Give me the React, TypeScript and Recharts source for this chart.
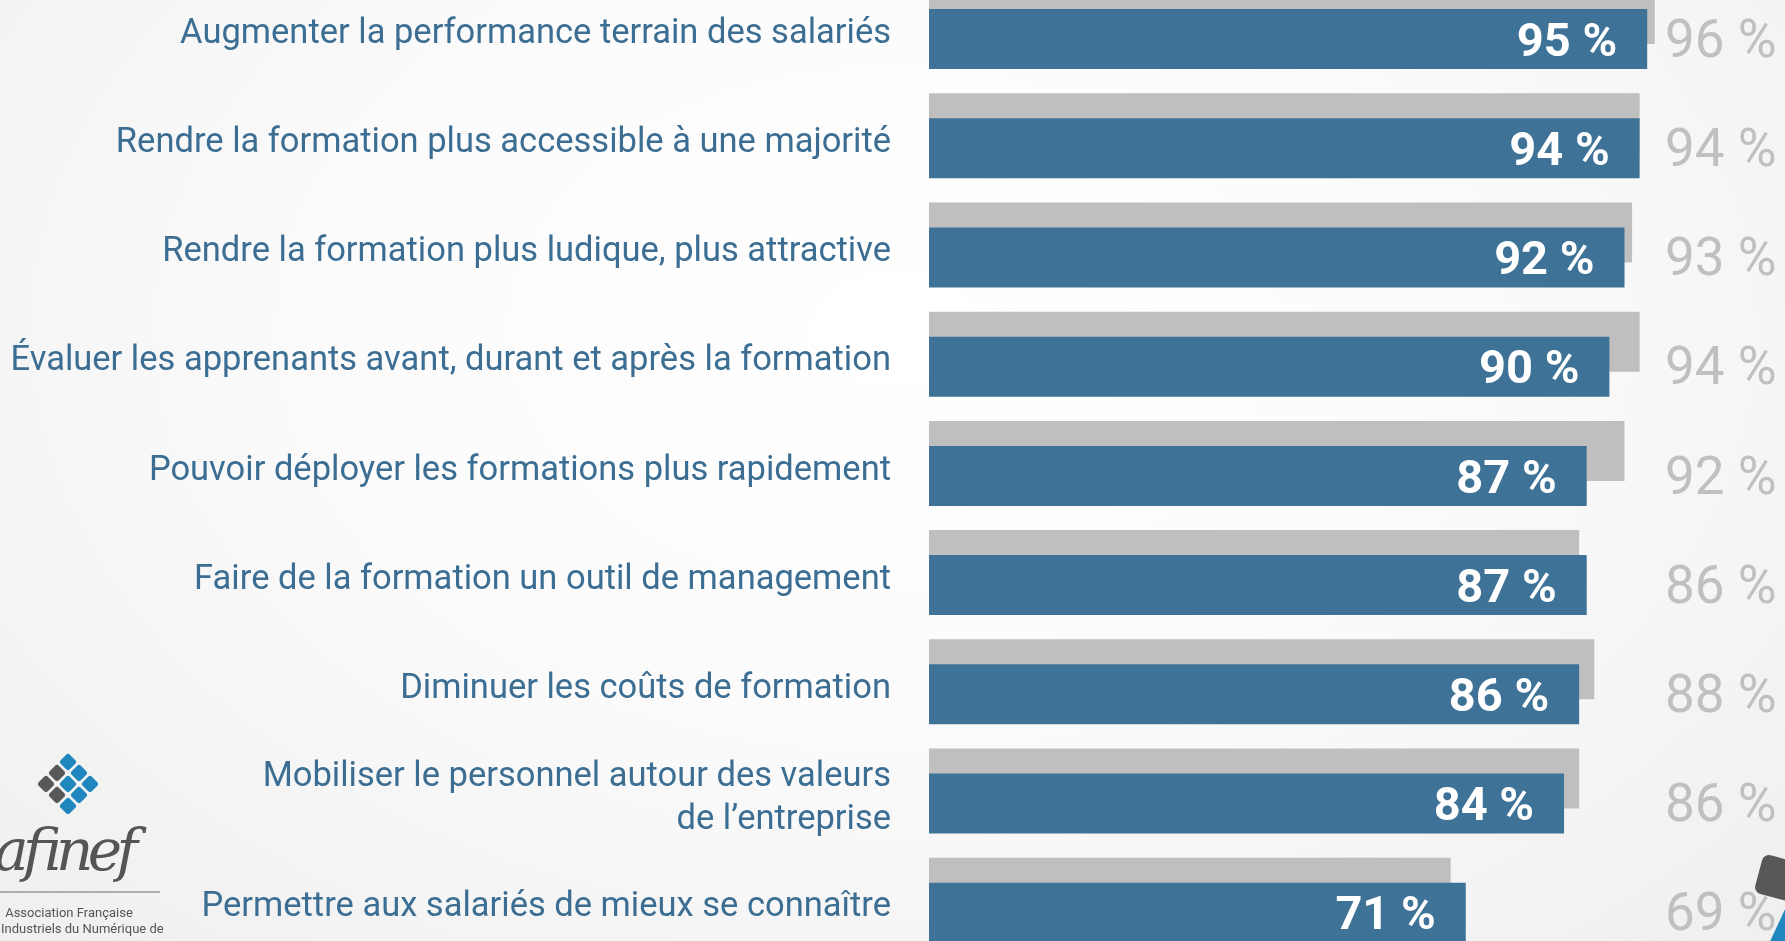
import React from 'react';
import { BarChart, Bar, XAxis, YAxis, LabelList } from 'recharts';

// Survey items (top to bottom); "\n" marks a manual line break in the label
const categories = [
  'Augmenter la performance terrain des salariés',
  'Rendre la formation plus accessible à une majorité',
  'Rendre la formation plus ludique, plus attractive',
  'Évaluer les apprenants avant, durant et après la formation',
  'Pouvoir déployer les formations plus rapidement',
  'Faire de la formation un outil de management',
  'Diminuer les coûts de formation',
  'Mobiliser le personnel autour des valeurs\nde l\u2019entreprise',
  'Permettre aux salariés de mieux se connaître',
];
const currentValues = [95, 94, 92, 90, 87, 87, 86, 84, 71];
const previousValues = [96, 94, 93, 94, 92, 86, 88, 86, 69];

const data = categories.map((name, i) => ({
  name,
  current: currentValues[i],
  previous: previousValues[i],
}));

const BLUE = '#3e7397';
const GREY_BAR = '#bfbfbf';
const LABEL_BLUE = '#3c6e93';
const GREY_TEXT = '#c0c0c0';
const FONT = 'Roboto, "Open Sans", sans-serif';

const LeftTick = (props: any) => {
  const { x, y, payload } = props;
  const lines = String(payload.value).split('\n');
  const lineH = 43;
  const start = y + 4 - ((lines.length - 1) * lineH) / 2;
  return (
    <g>
      {lines.map((line, i) => (
        <text
          key={i}
          x={x}
          y={start + i * lineH}
          dy="0.35em"
          textAnchor="end"
          fill={LABEL_BLUE}
          fontSize={34.5}
          fontFamily={FONT}
        >
          {line}
        </text>
      ))}
    </g>
  );
};

const RightTick = (props: any) => {
  const { x, y, index } = props;
  return (
    <text
      x={x - 20}
      y={y + 11}
      dy="0.36em"
      textAnchor="start"
      fill={GREY_TEXT}
      fontSize={53}
      fontFamily={FONT}
    >
      {`${previousValues[index]} %`}
    </text>
  );
};

const Logo = () => (
  <svg width={200} height={200} style={{ position: 'absolute', left: 0, top: 741 }}>
    {[
      [0, 0, 'b'], [1, 0, 'b'], [0, 1, 'd'], [2, 0, 'b'], [1, 1, 'b'],
      [0, 2, 'd'], [2, 1, 'b'], [1, 2, 'd'], [2, 2, 'b'],
    ].map(([i, j, c], k) => {
      const cx = 68 + ((i as number) - (j as number)) * 11;
      const cy = 43 + ((i as number) + (j as number) - 2) * 11;
      return (
        <rect
          key={k}
          x={cx - 6.5}
          y={cy - 6.5}
          width={13}
          height={13}
          rx={3}
          fill={c === 'b' ? '#1f87bd' : '#58585a'}
          transform={`rotate(45 ${cx} ${cy})`}
        />
      );
    })}
    <text x={-6} y={129} fontSize={58} fontStyle="italic" fontFamily='"DejaVu Serif", serif' fill="#555" textLength={144}>
      afinef
    </text>
    <line x1={0} x2={160} y1={151} y2={151} stroke="#999" strokeWidth={1.5} />
    <text x={69} y={176} fontSize={13} textAnchor="middle" fontFamily={FONT} fill="#555">
      Association Française
    </text>
    <text x={1} y={192} fontSize={13} textAnchor="start" fontFamily={FONT} fill="#555">
      Industriels du Numérique de
    </text>
  </svg>
);

export default function App() {
  return (
    <div
      style={{
        position: 'fixed',
        left: 0,
        top: 0,
        width: 1785,
        height: 941,
        overflow: 'hidden',
        background:
          'radial-gradient(ellipse at 50% 35%, #ffffff 0%, #fbfbfb 45%, #efefef 100%)',
      }}
    >
      <div style={{ position: 'absolute', left: 0, top: -28 }}>
        <BarChart
          width={1785}
          height={983}
          data={data}
          layout="vertical"
          margin={{ top: 0, right: 0, bottom: 0, left: 0 }}
          barGap={-35}
        >
          <XAxis type="number" domain={[0, 100]} hide />
          <YAxis
            yAxisId="left"
            type="category"
            dataKey="name"
            width={929}
            axisLine={false}
            tickLine={false}
            tickSize={0}
            tickMargin={38}
            interval={0}
            tick={<LeftTick />}
          />
          <YAxis
            yAxisId="right"
            orientation="right"
            type="category"
            dataKey="name"
            width={100}
            axisLine={false}
            tickLine={false}
            tickSize={0}
            tickMargin={0}
            interval={0}
            tick={<RightTick />}
          />
          <Bar yAxisId="left" dataKey="previous" fill={GREY_BAR} barSize={60} isAnimationActive={false} />
          <Bar yAxisId="left" dataKey="current" fill={BLUE} barSize={60} isAnimationActive={false}>
            <LabelList
              dataKey="current"
              position="insideRight"
              offset={30}
              formatter={(v: any) => `${v} %`}
              fill="#ffffff"
              fontSize={47}
              fontWeight="bold"
              fontFamily={FONT}
            />
          </Bar>
        </BarChart>
      </div>
      <Logo />
      <div
        style={{
          position: 'absolute',
          left: 1758,
          top: 858,
          width: 40,
          height: 40,
          background: '#58585a',
          borderRadius: 7,
          transform: 'rotate(15deg)',
        }}
      />
      <div
        style={{
          position: 'absolute',
          left: 1776,
          top: 912,
          width: 30,
          height: 40,
          background: '#1f87bd',
          transform: 'rotate(25deg)',
        }}
      />
    </div>
  );
}
